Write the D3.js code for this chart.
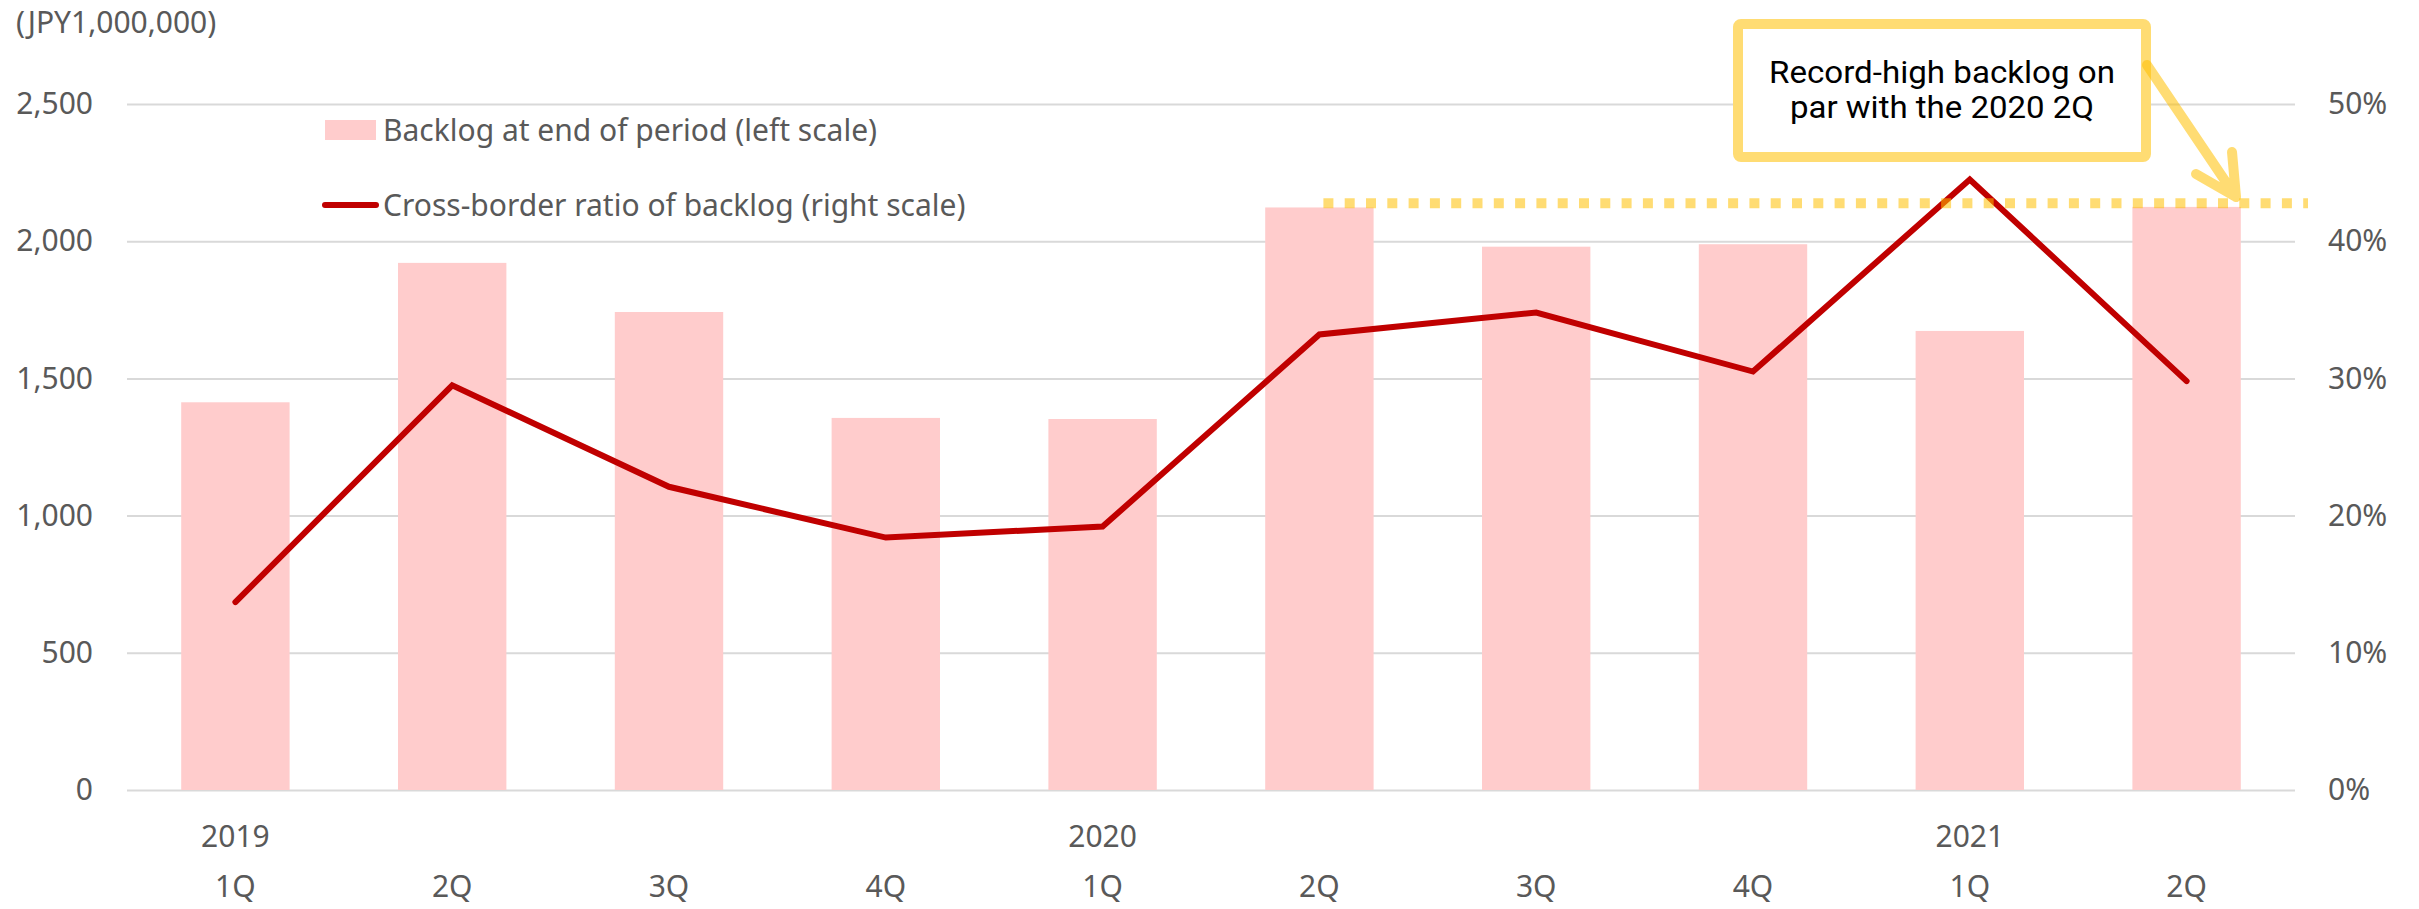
<!DOCTYPE html>
<html>
<head>
<meta charset="utf-8">
<script src="https://cdn.jsdelivr.net/npm/d3@7"></script>
<style>
  body { margin: 0; background: #fff; }
  svg { display: block; }
</style>
</head>
<body>
<svg id="chart" width="2419" height="909"></svg>
<script>
// Quarterly backlog (JPY million) and cross-border share of backlog (%)
const quarters = ["1Q", "2Q", "3Q", "4Q", "1Q", "2Q", "3Q", "4Q", "1Q", "2Q"];
const years = ["2019", "", "", "", "2020", "", "", "", "2021", ""];
const backlog = [1413, 1921, 1742, 1356, 1352, 2123, 1980, 1989, 1673, 2125];
const crossBorderRatio = [13.7, 29.5, 22.1, 18.4, 19.2, 33.2, 34.8, 30.5, 44.5, 29.8];
const leftTicks = [0, 500, 1000, 1500, 2000, 2500];
const rightTicks = [0, 10, 20, 30, 40, 50];
const recordLevel = 2138;
const unitLabel = "(JPY1,000,000)";
const legendLabels = ["Backlog at end of period (left scale)", "Cross-border ratio of backlog (right scale)"];
const calloutLines = ["Record-high backlog on", "par with the 2020 2Q"];

const svg = d3.select("#chart");
const plot = { left: 127, right: 2295, top: 104, bottom: 790 };

const FONT = "'Noto Sans', 'Open Sans', sans-serif";
const TEXT = "#595959";
const GRID = "#D9D9D9";
const BAR = "#FFCCCC";
const LINE = "#C00000";
const GOLD = "#FFC000";

const idx = d3.range(quarters.length);
const x = d3.scaleBand().domain(idx).range([plot.left, plot.right]).paddingInner(0.5).paddingOuter(0.25);
const yL = d3.scaleLinear().domain([0, 2500]).range([plot.bottom, plot.top]);
const yR = d3.scaleLinear().domain([0, 50]).range([plot.bottom, plot.top]);
const cx = i => x(i) + x.bandwidth() / 2;

// Gridlines
svg.append("g")
  .attr("transform", `translate(${plot.left},0)`)
  .call(d3.axisLeft(yL).tickValues(leftTicks).tickSize(-(plot.right - plot.left)).tickFormat(""))
  .call(g => g.select(".domain").remove())
  .call(g => g.selectAll(".tick line").attr("stroke", GRID).attr("stroke-width", 2));

// Left axis labels
svg.append("g")
  .attr("transform", `translate(${plot.left},0)`)
  .call(d3.axisLeft(yL).tickValues(leftTicks).tickSize(0).tickPadding(34).tickFormat(d3.format(",")))
  .call(g => g.select(".domain").remove())
  .call(g => g.selectAll("text").attr("fill", TEXT).style("font", `30px ${FONT}`));

// Right axis labels
svg.append("g")
  .attr("transform", `translate(${plot.right},0)`)
  .call(d3.axisRight(yR).tickValues(rightTicks).tickSize(0).tickPadding(33).tickFormat(d => d + "%"))
  .call(g => g.select(".domain").remove())
  .call(g => g.selectAll("text").attr("fill", TEXT).style("font", `30px ${FONT}`));

// Bars
svg.append("g").selectAll("rect")
  .data(idx).join("rect")
  .attr("x", i => x(i))
  .attr("width", x.bandwidth())
  .attr("y", i => yL(backlog[i]))
  .attr("height", i => yL(0) - yL(backlog[i]))
  .attr("fill", BAR);

// Category labels: quarter row and year row
const xl = svg.append("g").style("font", `30px ${FONT}`).attr("fill", TEXT).attr("text-anchor", "middle");
xl.selectAll(".yr").data(idx.filter(i => years[i])).join("text")
  .attr("class", "yr").attr("x", cx).attr("y", 847).text(i => years[i]);
xl.selectAll(".q").data(idx).join("text")
  .attr("class", "q").attr("x", cx).attr("y", 897).text(i => quarters[i]);

// Ratio line
svg.append("path")
  .datum(idx)
  .attr("fill", "none")
  .attr("stroke", LINE)
  .attr("stroke-width", 6)
  .attr("stroke-linecap", "round")
  .attr("stroke-linejoin", "miter")
  .attr("d", d3.line().x(cx).y(i => yR(crossBorderRatio[i])));

// Unit label
svg.append("text").attr("x", 16).attr("y", 33)
  .attr("fill", TEXT).style("font", `30px ${FONT}`).text(unitLabel);

// Legend
const lg = svg.append("g").style("font", `30px ${FONT}`).attr("fill", TEXT);
lg.append("rect").attr("x", 325).attr("y", 120).attr("width", 51).attr("height", 20).attr("fill", BAR);
lg.append("text").attr("x", 383).attr("y", 141).text(legendLabels[0]);
lg.append("line").attr("x1", 325).attr("x2", 376).attr("y1", 205).attr("y2", 205)
  .attr("stroke", LINE).attr("stroke-width", 6).attr("stroke-linecap", "round");
lg.append("text").attr("x", 383).attr("y", 216).text(legendLabels[1]);

// Record-level dotted marker
svg.append("line")
  .attr("x1", cx(5) + 4).attr("x2", plot.right + 13)
  .attr("y1", yL(recordLevel)).attr("y2", yL(recordLevel))
  .attr("stroke", GOLD).attr("stroke-opacity", 0.55)
  .attr("stroke-width", 10).attr("stroke-dasharray", "10 11.3");

// Callout box
const box = { x: 1738, y: 24, w: 408, h: 133 };
svg.append("rect")
  .attr("x", box.x).attr("y", box.y).attr("width", box.w).attr("height", box.h).attr("rx", 3)
  .attr("fill", "#fff").attr("stroke", "#FFDC73").attr("stroke-width", 10);
const ct = svg.append("g").attr("fill", "#000").attr("text-anchor", "middle")
  .style("font", "32px Roboto, 'Liberation Sans', sans-serif");
ct.append("text").attr("x", box.x + box.w / 2).attr("y", 83)
  .attr("textLength", 346).attr("lengthAdjust", "spacingAndGlyphs").text(calloutLines[0]);
ct.append("text").attr("x", box.x + box.w / 2).attr("y", 118)
  .attr("textLength", 304).attr("lengthAdjust", "spacingAndGlyphs").text(calloutLines[1]);

// Arrow from the callout down to the latest bar
const tip = [2236, 197];
svg.append("path")
  .attr("d", `M2147,65 L${tip[0]},${tip[1]} M2196,174 L${tip[0]},${tip[1]} L2232,152`)
  .attr("fill", "none").attr("stroke", GOLD).attr("stroke-opacity", 0.55)
  .attr("stroke-width", 10).attr("stroke-linecap", "round").attr("stroke-linejoin", "round");
</script>
</body>
</html>
